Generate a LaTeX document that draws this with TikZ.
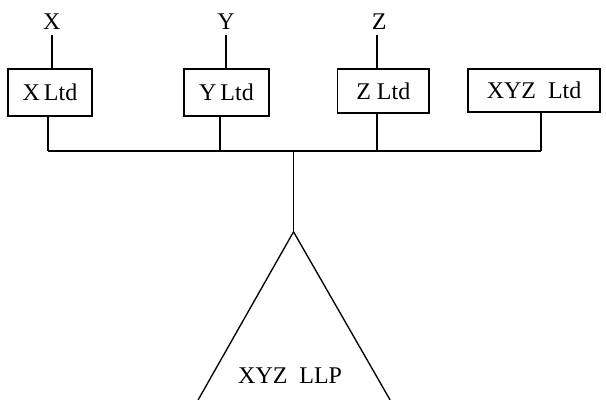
\documentclass[tikz,border=0pt]{standalone}
\usepackage{fontspec}
\setmainfont{Liberation Serif}
\newfontfamily\termsfont{Liberation Serif}
\usepackage{tikz}
\usetikzlibrary{positioning,calc}
\tikzset{
  co/.style    = {draw=black, fill=white, line width=1pt, minimum height=12.4mm, inner sep=0pt},
  owner/.style = {font=\termsfont\fontsize{18}{20}\selectfont, inner sep=0pt, outer sep=0pt},
  link/.style  = {draw=black, line width=1pt},
}
\begin{document}
\begin{tikzpicture}[x=1mm,y=1mm]
\path[use as bounding box] (0,0) rectangle (160,105.6);

% ---- owners -------------------------------------------------------------
\node[owner] (lx) at (13.7,99.8) {X};
\node[owner] (ly) at (59.7,99.8) {Y};
\node[owner] (lz) at (100.1,99.8) {Z};

% ---- companies ----------------------------------------------------------
\node[co, owner, minimum width=22.2mm] (xltd) at (13.2,81.2) {X\,Ltd};
\node[co, owner, minimum width=22.4mm] (yltd) at (59.8,81.2) {Y\,Ltd};
\node[co, owner, minimum width=24.1mm, minimum height=11.6mm] (zltd) at (101.2,81.6) {Z Ltd};
\node[co, owner, minimum width=34.8mm, minimum height=11.4mm] (xyzltd) at (141,81.7) {XYZ\ \ Ltd};

\draw[link] (lx.south |- 0,96.4) -- (lx.south |- xltd.north);
\draw[link] (ly.south |- 0,96.4) -- (ly.south |- yltd.north);
\draw[link] (zltd.north -| 99.5,0) -- (99.5,96.4);

% ---- the bus ------------------------------------------------------------
\coordinate (busl) at (12.7,65.7);
\coordinate (busr) at (142.8,65.7);
\coordinate (busm) at (77.5,65.7);
\draw[link] (busl) -- (busr);
\draw[link] (xltd.south -| busl) -- (busl);
\draw[link] (yltd.south -| 58.1,0) -- (58.1,65.7);
\draw[link] (zltd.south -| 99.5,0) -- (99.5,65.7);
\draw[link] (xyzltd.south -| busr) -- (busr);

% ---- the partnership ----------------------------------------------------
\coordinate (apex) at (77.5,44.4);
\draw[link] (busm) -- (apex);
\draw[link, line join=miter] (52.3,0) -- (apex) -- (103,0);
\node[owner] (llp) at (76.6,6.3) {XYZ\ \ LLP};

\end{tikzpicture}
\end{document}
